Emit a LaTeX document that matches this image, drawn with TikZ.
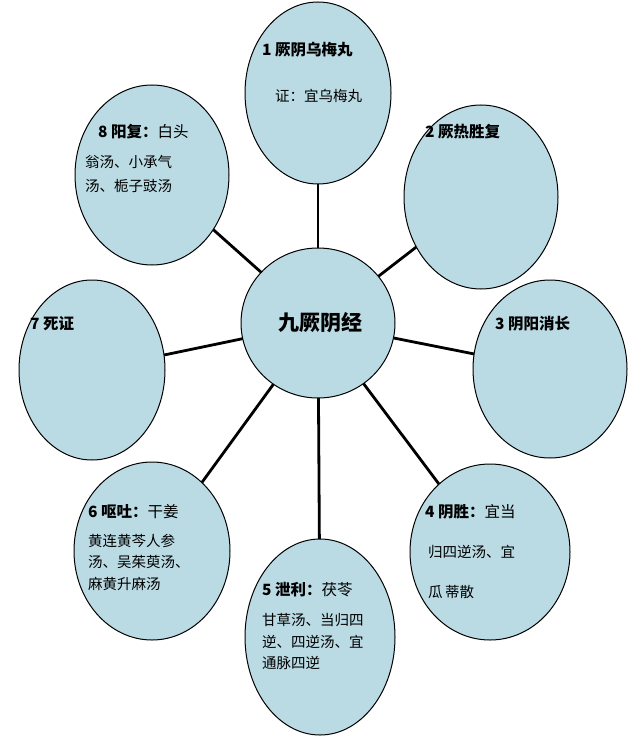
\documentclass[tikz,border=0pt]{standalone}
\usepackage{fontspec}
\newfontfamily\cjk{Noto Sans CJK SC}
\definecolor{bub}{RGB}{187,219,228}
\begin{document}
\begin{tikzpicture}[x=1pt,y=-1pt,
  conn/.style={line width=2.8pt},
  lab/.style={anchor=west,inner sep=0pt,font=\cjk\fontsize{14.5}{16}\selectfont},
  ttl/.style={anchor=west,inner sep=0pt,font=\cjk\bfseries\fontsize{15.5}{17}\selectfont}]
\useasboundingbox (0,0) rectangle (640,741);
\coordinate (c) at (318,323);
\coordinate (p1) at (318,93);
\coordinate (p2) at (481,197);
\coordinate (p3) at (550,369);
\coordinate (p4) at (490,552);
\coordinate (p5) at (320,637);
\coordinate (p6) at (152,551);
\coordinate (p7) at (92,370);
\coordinate (p8) at (152,175);
\foreach \i in {1,...,8} \draw[conn] (c) -- (p\i);
\fill[bub,draw=black,line width=1pt] (p1) ellipse [x radius=73,y radius=91];
\fill[bub,draw=black,line width=1pt] (p2) ellipse [x radius=77,y radius=92];
\fill[bub,draw=black,line width=1pt] (p3) ellipse [x radius=77,y radius=89];
\fill[bub,draw=black,line width=1pt] (p4) ellipse [x radius=80,y radius=88];
\fill[bub,draw=black,line width=1pt] (p5) ellipse [x radius=75,y radius=98];
\fill[bub,draw=black,line width=1pt] (p6) ellipse [x radius=78,y radius=89];
\fill[bub,draw=black,line width=1pt] (p7) ellipse [x radius=73,y radius=90];
\fill[bub,draw=black,line width=1pt] (p8) ellipse [x radius=77,y radius=90];
\fill[bub,draw=black,line width=1pt] (c) ellipse [x radius=77,y radius=75];
\node[font=\cjk\bfseries\fontsize{21}{23}\selectfont] (ct) at (320,323) {九厥阴经};
\node[ttl] (t1) at (262,50) {1 厥阴乌梅丸};
\node[lab] (t1b) at (275,96) {证：宜乌梅丸};
\node[ttl] (t2) at (425,132) {2 厥热胜复};
\node[ttl] (t3) at (495,324) {3 阴阳消长};
\node[ttl] (t4) at (425,512) {4 阴胜：\mdseries 宜当};
\node[lab] (t4b) at (428,552) {归四逆汤、宜};
\node[lab] (t4c) at (428,592) {瓜\,蒂散};
\node[ttl] (t5) at (262,590) {5 泄利：\mdseries 茯苓};
\node[lab] (t5b) at (262,620) {甘草汤、当归四};
\node[lab] (t5c) at (262,642) {逆、四逆汤、宜};
\node[lab] (t5d) at (262,663) {通脉四逆};
\node[ttl] (t6) at (88,512) {6 呕吐：\mdseries 干姜};
\node[lab] (t6b) at (88,541) {黄连黄芩人参};
\node[lab] (t6c) at (88,562) {汤、吴茱萸汤、};
\node[lab] (t6d) at (88,584) {麻黄升麻汤};
\node[ttl] (t7) at (30,324) {7 死证};
\node[ttl] (t8) at (98,132) {8 阳复：\mdseries 白头};
\node[lab] (t8b) at (85,162) {翁汤、小承气};
\node[lab] (t8c) at (85,186) {汤、栀子豉汤};
\end{tikzpicture}
\end{document}
